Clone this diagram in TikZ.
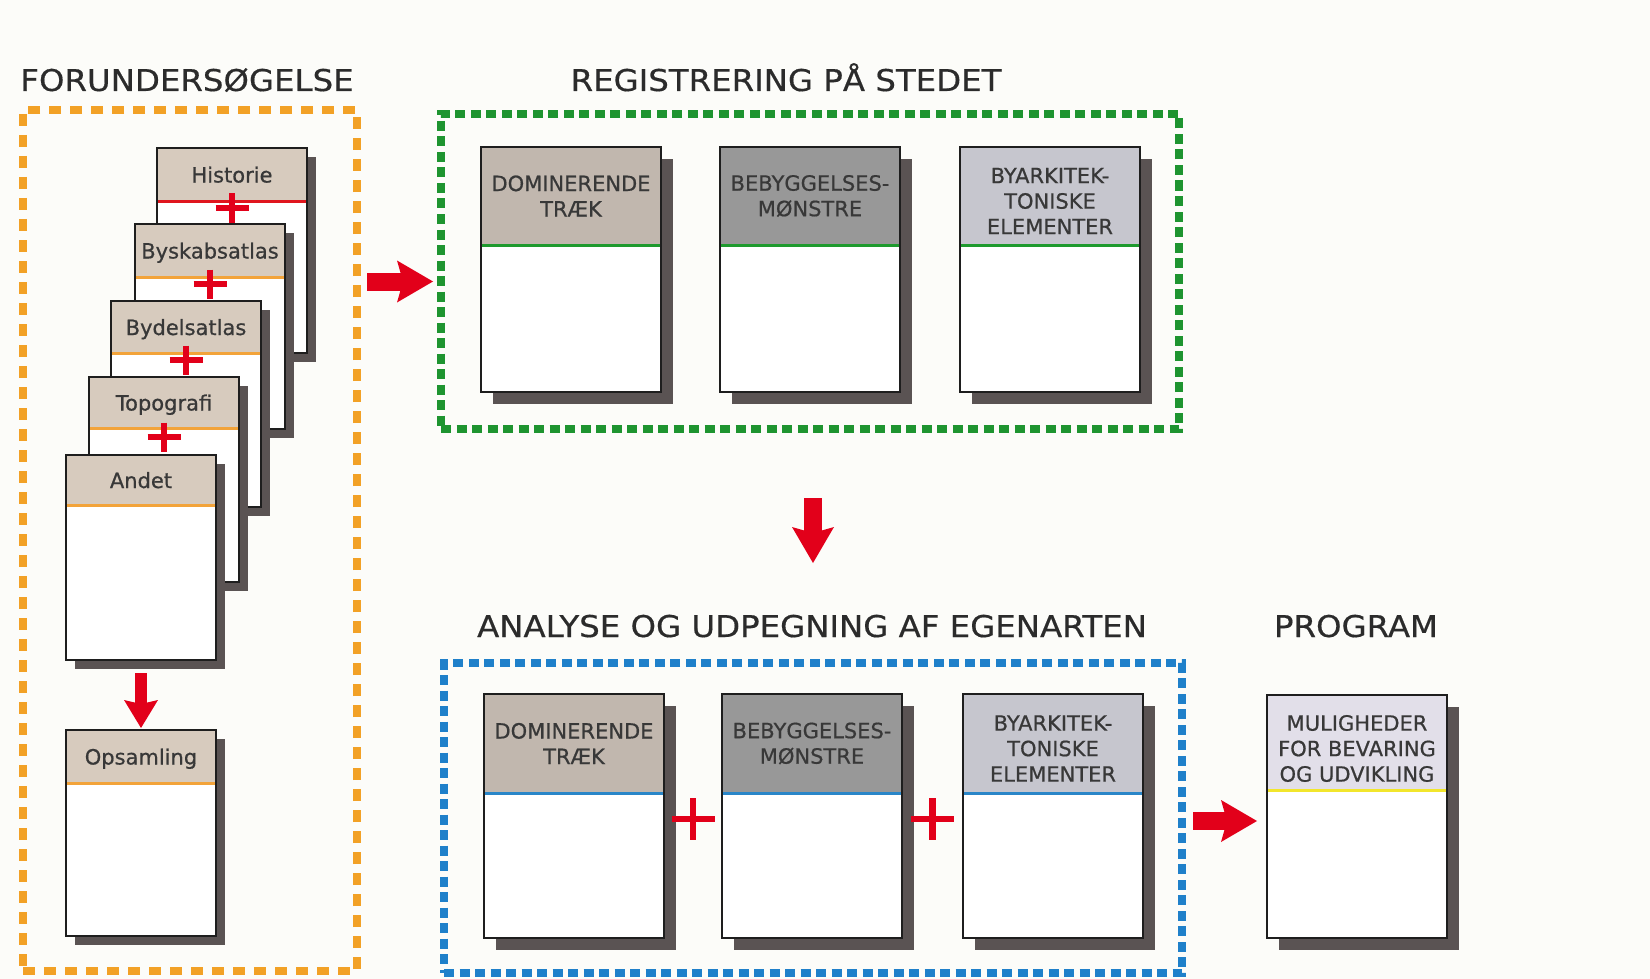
\documentclass[tikz,border=0pt]{standalone}
\usepackage{fontspec}
\setmainfont{DejaVu Sans}
\newfontfamily\titlefont[FakeStretch=1.08,FakeBold=0.5]{DejaVu Sans}
\newfontfamily\cardfont[FakeBold=0.7]{DejaVu Sans}
\usetikzlibrary{calc,shadows,arrows.meta}
\definecolor{bgc}{HTML}{FCFCF9}
\definecolor{orangec}{HTML}{F2A126}
\definecolor{greenc}{HTML}{1E9430}
\definecolor{bluec}{HTML}{1F80CA}
\definecolor{arrred}{HTML}{E2001A}
\definecolor{seporange}{HTML}{F2A33A}
\definecolor{sepred}{HTML}{E0161E}
\definecolor{sepgreen}{HTML}{1E9A2E}
\definecolor{sepblue}{HTML}{2A86C8}
\definecolor{sepyellow}{HTML}{F2E62C}
\definecolor{hdrtan}{HTML}{D7CBBE}
\definecolor{hdrdom}{HTML}{C1B7AE}
\definecolor{hdrbeb}{HTML}{989898}
\definecolor{hdrbya}{HTML}{C6C6CE}
\definecolor{hdrprog}{HTML}{E2DFE9}
\definecolor{shadowc}{HTML}{5A5353}
\definecolor{cardline}{HTML}{1E1E1E}
\definecolor{textc}{HTML}{383838}
\definecolor{titlec}{HTML}{2B2B2B}

\newcommand\shoff{9pt}
\tikzset{
  cardbox/.style={draw=cardline, line width=2.5pt, fill=white, outer sep=0pt, inner sep=0pt,
    drop shadow={shadow xshift=\shoff, shadow yshift=-\shoff, fill=shadowc, opacity=1}},
  cardtext/.style={font=\cardfont\fontsize{21}{25.5}\selectfont, text=textc, align=center, inner sep=0pt},
  dbox/.style={line width=8pt, outer sep=0pt, inner sep=0pt},
  titletext/.style={font=\titlefont\fontsize{30}{36}\selectfont, text=titlec, anchor=base, inner sep=0pt},
  redarr/.style={draw=arrred, line width=18pt, -{Stealth[length=36pt,width=42pt,inset=6pt,line width=0pt]}},
  redarrs/.style={draw=arrred, line width=12pt, -{Stealth[length=28pt,width=34pt,inset=4pt,line width=0pt]}},
  redplus/.style={draw=arrred, line width=6.5pt},
}

% name, x, y, w, h, header height, header colour, separator colour, text
\newcommand\mkcard[9]{%
  \node[cardbox, minimum width=#4pt, minimum height=#5pt, anchor=north west] (#1) at (#2,#3) {};
  \fill[#7] (#1.north west) rectangle ($(#1.north east)+(0,#6)$);
  \draw[#8, line width=3pt] ($(#1.north west)+(0,#6)$) -- ($(#1.north east)+(0,#6)$);
  \draw[cardline, line width=2.5pt] (#1.north west) rectangle (#1.south east);
  \node[cardtext] (#1-t) at ($(#1.north)+(0,#6/2)$) {#9};
}
\newcommand\mkplus[3]{% coordinate name, half width, half height
  \draw[redplus] (#1) ++(-#2,0) -- ++(2*#2,0) (#1) ++(0,-#3) -- ++(0,2*#3);
}

\begin{document}
\begin{tikzpicture}[x=1pt,y=-1pt]
\fill[bgc] (0,0) rectangle (1650,979);
\useasboundingbox (0,0) rectangle (1650,979);

% titles
\node[titletext] (t1) at (187,91) {FORUNDERSØGELSE};
\node[titletext] (t2) at (786,91) {REGISTRERING PÅ STEDET};
\node[titletext] (t3) at (812,637) {ANALYSE OG UDPEGNING AF EGENARTEN};
\node[titletext] (t4) at (1356,637) {PROGRAM};

% dashed frames
\node[dbox, draw=orangec, dash pattern=on 12pt off 9pt, minimum width=334pt, minimum height=861pt, anchor=north west] (fbox) at (23,110) {};
\node[dbox, draw=greenc, dash pattern=on 10pt off 5.5pt, minimum width=738pt, minimum height=315pt, anchor=north west] (gbox) at (441,114) {};
\node[dbox, draw=bluec, dash pattern=on 10pt off 5.5pt, minimum width=738pt, minimum height=310pt, anchor=north west] (bbox) at (444,663) {};

% left stack
\begin{scope}[cardtext/.append style={anchor=base, yshift=-8pt}]
\mkcard{hist}{157}{148}{150}{205}{53}{hdrtan}{sepred}{Historie}
\coordinate (p1) at ($(hist.north)+(0,60)$);
\mkplus{p1}{16.5}{14.5}
\mkcard{bysk}{135}{224}{150}{205}{53}{hdrtan}{seporange}{Byskabsatlas}
\coordinate (p2) at ($(bysk.north)+(0,60)$);
\mkplus{p2}{16.5}{14.5}
\mkcard{bydel}{111}{301}{150}{206}{52}{hdrtan}{seporange}{Bydelsatlas}
\coordinate (p3) at ($(bydel.north)+(0,59)$);
\mkplus{p3}{16.5}{14.5}
\mkcard{topo}{89}{377}{150}{205}{51}{hdrtan}{seporange}{Topografi}
\coordinate (p4) at ($(topo.north)+(0,60)$);
\mkplus{p4}{16.5}{14.5}
\mkcard{andet}{66}{455}{150}{205}{50}{hdrtan}{seporange}{Andet}
\mkcard{opsam}{66}{730}{150}{206}{53}{hdrtan}{seporange}{Opsamling}
\end{scope}

\draw[redarrs] ($(andet.south)+(0,13)$) -- ($(opsam.north)+(0,-2)$);

% registrering row
\renewcommand\shoff{12pt}
\mkcard{g1}{481}{147}{180}{245}{98}{hdrdom}{sepgreen}{DOMINERENDE\\TRÆK}
\mkcard{g2}{720}{147}{180}{245}{98}{hdrbeb}{sepgreen}{BEBYGGELSES-\\MØNSTRE}
\begin{scope}[cardtext/.append style={yshift=-5pt}]
\mkcard{g3}{960}{147}{180}{245}{98}{hdrbya}{sepgreen}{BYARKITEK-\\TONISKE\\ELEMENTER}
\end{scope}

% analyse row
\mkcard{b1}{484}{694}{180}{244}{99}{hdrdom}{sepblue}{DOMINERENDE\\TRÆK}
\mkcard{b2}{722}{694}{180}{244}{99}{hdrbeb}{sepblue}{BEBYGGELSES-\\MØNSTRE}
\begin{scope}[cardtext/.append style={yshift=-5pt}]
\mkcard{b3}{963}{694}{180}{244}{99}{hdrbya}{sepblue}{BYARKITEK-\\TONISKE\\ELEMENTER}
\end{scope}
\coordinate (q1) at ($($(b1.east)!0.5!(b2.west)$)+(0,3)$);
\mkplus{q1}{21.5}{21}
\coordinate (q2) at ($($(b2.east)!0.5!(b3.west)$)+(0,3)$);
\mkplus{q2}{21.5}{21}

% program
\begin{scope}[cardtext/.append style={yshift=-6pt}]
\mkcard{prog}{1267}{695}{180}{243}{95}{hdrprog}{sepyellow}{MULIGHEDER\\FOR BEVARING\\OG UDVIKLING}
\end{scope}

% arrows between stages
\draw[redarr] ($(fbox.east |- gbox.west)+(10,10)$) -- ($(gbox.west)+(-8,10)$);
\draw[redarr] ($(gbox.south)+(3,69)$) -- ($(bbox.north)+(0,-100)$);
\draw[redarr] ($(bbox.east)+(11,3)$) -- ($(prog.west)+(-10,4.5)$);
\end{tikzpicture}
\end{document}
